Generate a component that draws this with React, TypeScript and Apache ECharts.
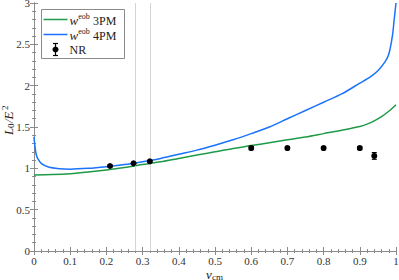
import React, { useEffect, useRef } from "react";
import * as echarts from "echarts";

const green3PM: [number, number][] = [
  [0, 0.92], [0.05, 0.925], [0.1, 0.935], [0.15, 0.955], [0.2, 0.98], [0.25, 1.01],
  [0.3, 1.045], [0.35, 1.08], [0.4, 1.12], [0.45, 1.16], [0.5, 1.2], [0.55, 1.24],
  [0.6, 1.275], [0.65, 1.31], [0.7, 1.345], [0.75, 1.38], [0.8, 1.42], [0.85, 1.46],
  [0.9, 1.505], [0.92, 1.535], [0.94, 1.575], [0.96, 1.625], [0.98, 1.69], [1.0, 1.77],
];

const blue4PM: [number, number][] = [
  [0, 1.38], [0.003, 1.25], [0.006, 1.17], [0.01, 1.12], [0.02, 1.06], [0.04, 1.015],
  [0.07, 0.995], [0.1, 0.99], [0.15, 1.0], [0.2, 1.02], [0.25, 1.045], [0.3, 1.08],
  [0.35, 1.12], [0.4, 1.17], [0.45, 1.22], [0.5, 1.28], [0.55, 1.345], [0.6, 1.42],
  [0.65, 1.5], [0.7, 1.6], [0.75, 1.7], [0.8, 1.8], [0.85, 1.9], [0.9, 2.03],
  [0.93, 2.11], [0.95, 2.18], [0.97, 2.29], [0.98, 2.38], [0.99, 2.6], [0.995, 2.8], [1.0, 3.0],
];

const nrX = [0.21, 0.275, 0.32, 0.6, 0.7, 0.8, 0.9, 0.94];
const nrY = [1.028, 1.06, 1.085, 1.245, 1.245, 1.245, 1.245, 1.15];
const nrErr = [0.01, 0.01, 0.01, 0.02, 0.02, 0.02, 0.02, 0.04];

const refLines = [0.275, 0.32];

const FONT = "'Liberation Serif', 'DejaVu Serif', serif";

export default function App() {
  const ref = useRef<HTMLDivElement>(null);
  useEffect(() => {
    if (!ref.current) return;
    const chart = echarts.init(ref.current, null, { renderer: "svg" });
    const axisLine = { show: true, lineStyle: { color: "#8a8a8a", width: 1 } };
    const axisTick = { show: true, inside: true, length: 4, lineStyle: { color: "#8a8a8a" } };
    const minorTick = { show: true, splitNumber: 5, length: 2, lineStyle: { color: "#8a8a8a" } };
    const labelStyle = { color: "#333", fontFamily: FONT, fontSize: 11 };
    const nrData = nrX.map((x, i) => [x, nrY[i], nrErr[i]]);
    const legendRich = {
      i: { fontFamily: FONT, fontStyle: "italic", fontSize: 13, fill: "#222", verticalAlign: "bottom", lineHeight: 14 },
      p: { fontFamily: FONT, fontSize: 8, fill: "#222", verticalAlign: "top", lineHeight: 14, padding: [0, 0, 5, 0] },
      n: { fontFamily: FONT, fontSize: 12, fill: "#222", verticalAlign: "bottom", lineHeight: 14 },
    };
    const it = (text: string, x: number, y: number) => ({
      type: "text", x, y,
      style: { text, fontFamily: FONT, fontStyle: "italic", fontSize: 13, fill: "#222", verticalAlign: "middle" },
    });
    const sm = (text: string, x: number, y: number) => ({
      type: "text", x, y,
      style: { text, fontFamily: FONT, fontSize: 9, fill: "#222", verticalAlign: "middle" },
    });
    chart.setOption({
      animation: false,
      grid: { left: 34, right: 3, top: 3, bottom: 29, containLabel: false, outerBoundsMode: "none" },
      xAxis: [
        {
          type: "value", min: 0, max: 1, interval: 0.1, position: "bottom",
          axisLine, axisTick, minorTick,
          splitLine: { show: false },
          axisLabel: { ...labelStyle, margin: 4, formatter: (v: number) => (v === 0 ? "0" : v === 1 ? "1" : v.toFixed(1)) },
        },
        {
          type: "value", min: 0, max: 1, interval: 0.1, position: "top",
          axisLine, axisTick, minorTick, splitLine: { show: false }, axisLabel: { show: false },
        },
      ],
      yAxis: [
        {
          type: "value", min: 0, max: 3, interval: 0.5, position: "left",
          axisLine, axisTick, minorTick, splitLine: { show: false },
          axisLabel: { ...labelStyle, margin: 4 },
        },
        {
          type: "value", min: 0, max: 3, interval: 0.5, position: "right",
          axisLine, axisTick, minorTick, splitLine: { show: false }, axisLabel: { show: false },
        },
      ],
      series: [
        {
          type: "line", data: green3PM, showSymbol: false, smooth: 0.3,
          lineStyle: { color: "#1f9a48", width: 1.5 }, z: 3,
          markLine: {
            silent: true, symbol: "none", label: { show: false },
            lineStyle: { color: "#d4d4d4", width: 1, type: "solid" },
            data: refLines.map((x) => ({ xAxis: x })),
          },
        },
        {
          type: "line", data: blue4PM, showSymbol: false, smooth: 0.3,
          lineStyle: { color: "#1a73ff", width: 1.5 }, z: 3,
        },
        {
          type: "custom", data: nrData, z: 5,
          renderItem: (params: any, api: any) => {
            const x = api.value(0), y = api.value(1), e = api.value(2);
            const top = api.coord([x, y + e]);
            const bot = api.coord([x, y - e]);
            const c = api.coord([x, y]);
            const st = { stroke: "#000", lineWidth: 1.2 };
            return {
              type: "group",
              children: [
                { type: "line", shape: { x1: top[0], y1: top[1], x2: bot[0], y2: bot[1] }, style: st },
                { type: "line", shape: { x1: top[0] - 2.5, y1: top[1], x2: top[0] + 2.5, y2: top[1] }, style: st },
                { type: "line", shape: { x1: bot[0] - 2.5, y1: bot[1], x2: bot[0] + 2.5, y2: bot[1] }, style: st },
                { type: "circle", shape: { cx: c[0], cy: c[1], r: 3 }, style: { fill: "#000" } },
              ],
            };
          },
        },
      ],
      graphic: [
        {
          type: "group", left: 41, top: 9,
          children: [
            { type: "rect", shape: { x: 0, y: 0, width: 83, height: 49 }, style: { fill: "#fff", stroke: "#8a8a8a", lineWidth: 1 } },
            { type: "line", shape: { x1: 2, y1: 10, x2: 26, y2: 10 }, style: { stroke: "#1f9a48", lineWidth: 1.5 } },
            { type: "line", shape: { x1: 2, y1: 25, x2: 26, y2: 25 }, style: { stroke: "#1a73ff", lineWidth: 1.5 } },
            { type: "line", shape: { x1: 14, y1: 34, x2: 14, y2: 46 }, style: { stroke: "#000", lineWidth: 1.2 } },
            { type: "line", shape: { x1: 11.5, y1: 34, x2: 16.5, y2: 34 }, style: { stroke: "#000", lineWidth: 1.2 } },
            { type: "line", shape: { x1: 11.5, y1: 46, x2: 16.5, y2: 46 }, style: { stroke: "#000", lineWidth: 1.2 } },
            { type: "circle", shape: { cx: 14, cy: 40, r: 3 }, style: { fill: "#000" } },
            { type: "text", x: 28, y: 3, style: { text: "{i|w}{p|eob} {n|3PM}", rich: legendRich } },
            { type: "text", x: 28, y: 18, style: { text: "{i|w}{p|eob} {n|4PM}", rich: legendRich } },
            { type: "text", x: 28, y: 34, style: { text: "NR", fontFamily: FONT, fontSize: 12, fill: "#222" } },
          ],
        },
        {
          type: "group", x: 206, y: 274,
          children: [it("v", 0, 0), sm("cm", 6, 2.5)],
        },
        {
          type: "group", x: 8, y: 135, rotation: Math.PI / 2,
          children: [it("L", 0, 0), sm("0", 7, 3), it("/E", 12, 0), sm("2", 25, -3)],
        },
      ],
    });
    return () => chart.dispose();
  }, []);
  return <div ref={ref} style={{ width: 399, height: 280, position: "absolute", left: 0, top: 0 }} />;
}
